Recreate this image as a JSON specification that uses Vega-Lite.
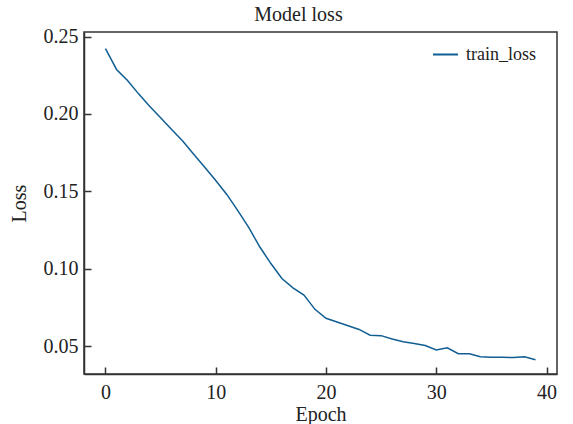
{
  "$schema": "https://vega.github.io/schema/vega-lite/v6.json",
  "width": 473,
  "height": 342,
  "autosize": "none",
  "padding": {"left": 84, "top": 32, "right": 16, "bottom": 50},
  "background": "white",
  "title": {"text": "Model loss", "font": "Liberation Serif", "fontSize": 20, "fontWeight": "normal", "color": "#222", "anchor": "middle", "offset": 2, "dx": -22},
  "data": {"values": [
    {"epoch": 0, "loss": 0.2423, "series": "train_loss"},
    {"epoch": 1, "loss": 0.2288, "series": "train_loss"},
    {"epoch": 2, "loss": 0.2217, "series": "train_loss"},
    {"epoch": 3, "loss": 0.2130, "series": "train_loss"},
    {"epoch": 4, "loss": 0.2050, "series": "train_loss"},
    {"epoch": 5, "loss": 0.1975, "series": "train_loss"},
    {"epoch": 6, "loss": 0.1900, "series": "train_loss"},
    {"epoch": 7, "loss": 0.1825, "series": "train_loss"},
    {"epoch": 8, "loss": 0.1740, "series": "train_loss"},
    {"epoch": 9, "loss": 0.1655, "series": "train_loss"},
    {"epoch": 10, "loss": 0.1570, "series": "train_loss"},
    {"epoch": 11, "loss": 0.1480, "series": "train_loss"},
    {"epoch": 12, "loss": 0.1375, "series": "train_loss"},
    {"epoch": 13, "loss": 0.1265, "series": "train_loss"},
    {"epoch": 14, "loss": 0.1140, "series": "train_loss"},
    {"epoch": 15, "loss": 0.1033, "series": "train_loss"},
    {"epoch": 16, "loss": 0.0936, "series": "train_loss"},
    {"epoch": 17, "loss": 0.0876, "series": "train_loss"},
    {"epoch": 18, "loss": 0.0829, "series": "train_loss"},
    {"epoch": 19, "loss": 0.0737, "series": "train_loss"},
    {"epoch": 20, "loss": 0.0679, "series": "train_loss"},
    {"epoch": 21, "loss": 0.0655, "series": "train_loss"},
    {"epoch": 22, "loss": 0.0631, "series": "train_loss"},
    {"epoch": 23, "loss": 0.0607, "series": "train_loss"},
    {"epoch": 24, "loss": 0.0570, "series": "train_loss"},
    {"epoch": 25, "loss": 0.0567, "series": "train_loss"},
    {"epoch": 26, "loss": 0.0545, "series": "train_loss"},
    {"epoch": 27, "loss": 0.0528, "series": "train_loss"},
    {"epoch": 28, "loss": 0.0516, "series": "train_loss"},
    {"epoch": 29, "loss": 0.0503, "series": "train_loss"},
    {"epoch": 30, "loss": 0.0475, "series": "train_loss"},
    {"epoch": 31, "loss": 0.0488, "series": "train_loss"},
    {"epoch": 32, "loss": 0.0450, "series": "train_loss"},
    {"epoch": 33, "loss": 0.0450, "series": "train_loss"},
    {"epoch": 34, "loss": 0.0430, "series": "train_loss"},
    {"epoch": 35, "loss": 0.0428, "series": "train_loss"},
    {"epoch": 36, "loss": 0.0427, "series": "train_loss"},
    {"epoch": 37, "loss": 0.0425, "series": "train_loss"},
    {"epoch": 38, "loss": 0.0430, "series": "train_loss"},
    {"epoch": 39, "loss": 0.0411, "series": "train_loss"}
  ]},
  "mark": {"type": "line", "strokeWidth": 1.5},
  "encoding": {
    "x": {
      "field": "epoch", "type": "quantitative",
      "scale": {"domain": [-1.95, 40.95], "nice": false, "zero": false},
      "axis": {"title": "Epoch", "values": [0, 10, 20, 30, 40], "grid": false, "tickSize": -7, "labelPadding": 15, "titlePadding": 2}
    },
    "y": {
      "field": "loss", "type": "quantitative",
      "scale": {"domain": [0.0319, 0.253], "nice": false, "zero": false},
      "axis": {"title": "Loss", "values": [0.05, 0.10, 0.15, 0.20, 0.25], "format": ".2f", "grid": false, "tickSize": -7, "labelPadding": 13, "titlePadding": 14}
    },
    "color": {
      "field": "series", "type": "nominal",
      "scale": {"range": ["#115e93"]},
      "legend": {"title": null, "orient": "none", "legendX": 348, "legendY": 9, "symbolType": "stroke", "symbolSize": 625, "symbolStrokeWidth": 2, "labelOffset": 7, "labelFont": "Liberation Serif", "labelFontSize": 18, "labelColor": "#222", "padding": 0}
    }
  },
  "config": {
    "view": {"stroke": "#333", "strokeWidth": 1.5},
    "axis": {
      "domainColor": "#333", "domainWidth": 1.5, "tickColor": "#333", "tickWidth": 1.5,
      "labelFont": "Liberation Serif", "labelFontSize": 20, "labelColor": "#222",
      "titleFont": "Liberation Serif", "titleFontSize": 20, "titleFontWeight": "normal", "titleColor": "#222"
    }
  }
}
